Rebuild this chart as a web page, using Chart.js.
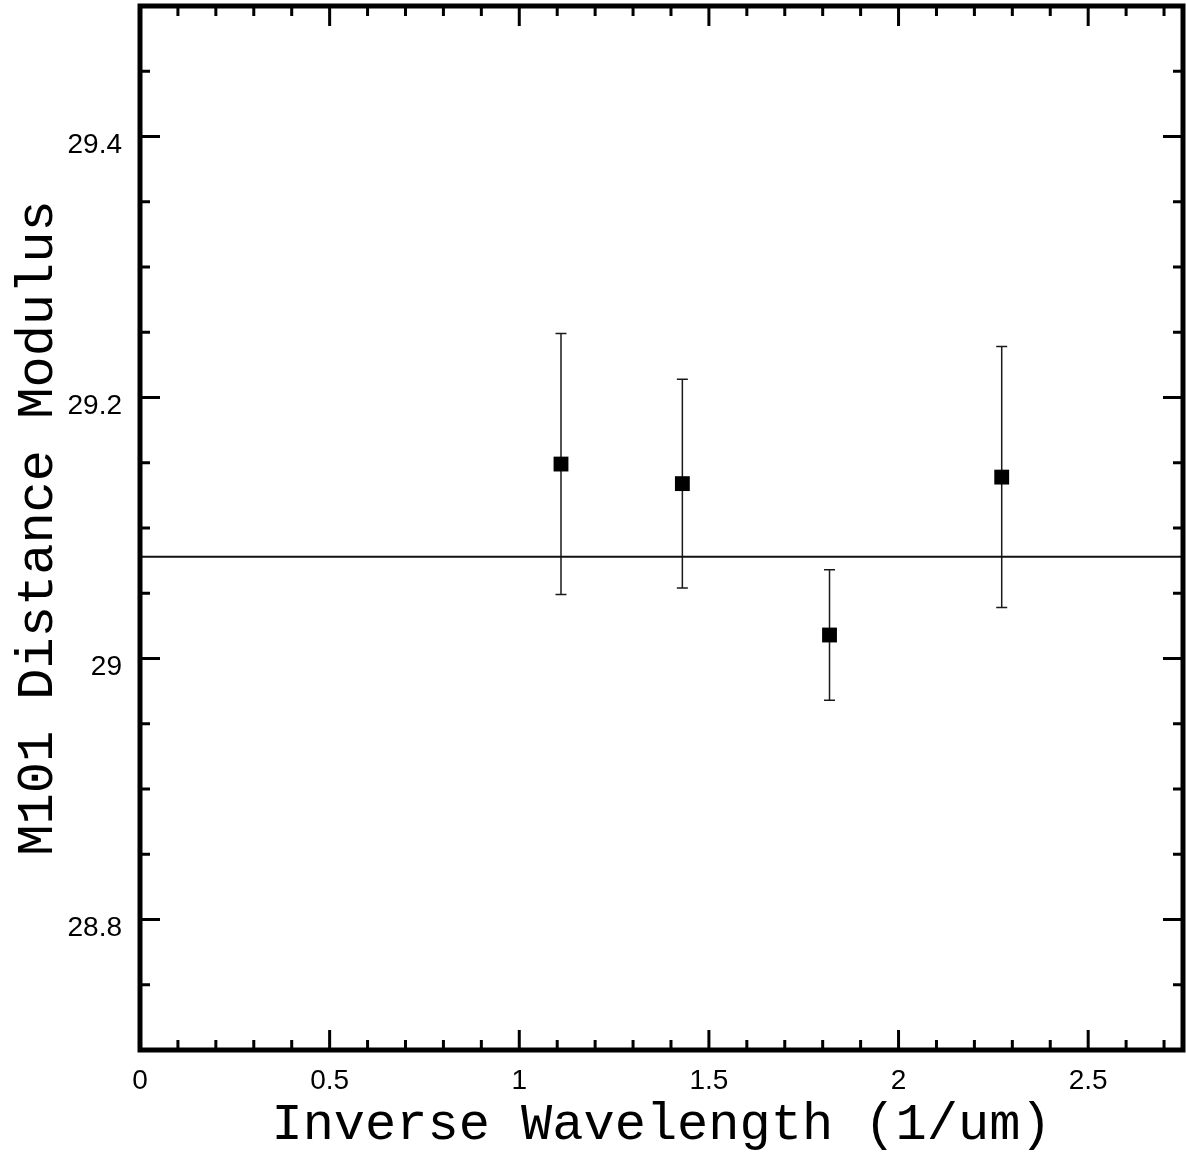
<!DOCTYPE html>
<html>
<head>
<meta charset="utf-8">
<title>M101 Distance Modulus</title>
<script src="https://cdn.jsdelivr.net/npm/chart.js@4.4.1/dist/chart.umd.min.js"></script>
<style>
  html, body { margin: 0; padding: 0; background: #fff; }
</style>
</head>
<body>
<canvas id="chart" width="1186" height="1160"></canvas>
<script>
// data
const invWavelength = [1.11, 1.43, 1.818, 2.272];
const distModulus = [29.149, 29.134, 29.018, 29.139];
const distError = [0.10, 0.08, 0.05, 0.10];
const meanModulus = 29.078;

const xRange = [0, 2.75];
const yRange = [28.7, 29.5];
const xTickValues = [0, 0.5, 1, 1.5, 2, 2.5];
const yTickValues = [28.8, 29, 29.2, 29.4];

const points = invWavelength.map((x, i) => ({ x: x, y: distModulus[i] }));

const tickFont = '28px "Liberation Sans", Arial, sans-serif';
const titleFont = { family: '"Liberation Mono", "Courier New", monospace', size: 52 };

// vertical error bars with small caps
const errorBars = {
  id: 'errorBars',
  beforeDatasetsDraw(chart) {
    const ctx = chart.ctx;
    const xs = chart.scales.x, ys = chart.scales.y;
    ctx.save();
    ctx.strokeStyle = '#1a1a1a';
    ctx.lineWidth = 1.5;
    points.forEach((p, i) => {
      const px = xs.getPixelForValue(p.x);
      const top = ys.getPixelForValue(p.y + distError[i]);
      const bot = ys.getPixelForValue(p.y - distError[i]);
      ctx.beginPath();
      ctx.moveTo(px, top); ctx.lineTo(px, bot);
      ctx.moveTo(px - 5.5, top); ctx.lineTo(px + 5.5, top);
      ctx.moveTo(px - 5.5, bot); ctx.lineTo(px + 5.5, bot);
      ctx.stroke();
    });
    ctx.restore();
  }
};

// heavy frame, inward ticks on all four sides, tick labels
const frame = {
  id: 'frame',
  afterDraw(chart) {
    const ctx = chart.ctx;
    const a = chart.chartArea;
    const xs = chart.scales.x, ys = chart.scales.y;
    ctx.save();
    ctx.strokeStyle = '#000';
    ctx.lineCap = 'butt';
    ctx.lineWidth = 3;
    ctx.beginPath();
    for (let i = 1; i < 28; i++) {
      const px = xs.getPixelForValue(i / 10);
      const len = i % 5 === 0 ? 20 : 10;
      ctx.moveTo(px, a.bottom); ctx.lineTo(px, a.bottom - len);
      ctx.moveTo(px, a.top); ctx.lineTo(px, a.top + len);
    }
    for (let j = 1; j < 16; j++) {
      const py = ys.getPixelForValue(yRange[0] + j * 0.05);
      const len = j % 4 === 2 ? 20 : 10;
      ctx.moveTo(a.left, py); ctx.lineTo(a.left + len, py);
      ctx.moveTo(a.right, py); ctx.lineTo(a.right - len, py);
    }
    ctx.stroke();
    ctx.lineWidth = 5;
    ctx.strokeRect(a.left, a.top, a.right - a.left, a.bottom - a.top);

    ctx.fillStyle = '#000';
    ctx.font = tickFont;
    ctx.textBaseline = 'alphabetic';
    ctx.textAlign = 'center';
    xTickValues.forEach(v => {
      ctx.fillText(String(v), xs.getPixelForValue(v), a.bottom + 39);
    });
    ctx.textAlign = 'right';
    yTickValues.forEach(v => {
      ctx.fillText(String(v), a.left - 18, ys.getPixelForValue(v) + 16);
    });
    ctx.restore();
  }
};

new Chart(document.getElementById('chart'), {
  type: 'scatter',
  data: {
    datasets: [
      {
        data: points,
        pointStyle: 'rect',
        pointRadius: 10.5,
        pointBorderWidth: 0,
        backgroundColor: '#000',
        borderColor: '#000'
      },
      {
        data: [{ x: xRange[0], y: meanModulus }, { x: xRange[1], y: meanModulus }],
        showLine: true,
        pointRadius: 0,
        borderColor: '#111',
        borderWidth: 2
      }
    ]
  },
  options: {
    responsive: false,
    animation: false,
    devicePixelRatio: 1,
    layout: { autoPadding: false, padding: { top: 6, right: 3, left: 0, bottom: 0 } },
    plugins: { legend: { display: false }, tooltip: { enabled: false } },
    scales: {
      x: {
        type: 'linear',
        min: xRange[0],
        max: xRange[1],
        border: { display: false },
        grid: { display: false, drawTicks: false },
        ticks: { display: false },
        afterFit: s => { s.height = 110; },
        title: {
          display: true,
          text: 'Inverse Wavelength (1/um)',
          color: '#000',
          font: titleFont,
          padding: { top: 0, bottom: 4 }
        }
      },
      y: {
        type: 'linear',
        min: yRange[0],
        max: yRange[1],
        border: { display: false },
        grid: { display: false, drawTicks: false },
        ticks: { display: false },
        afterFit: s => { s.width = 140; },
        title: {
          display: true,
          text: 'M101 Distance Modulus',
          color: '#000',
          font: titleFont,
          padding: { top: 7, bottom: 0 }
        }
      }
    }
  },
  plugins: [errorBars, frame]
});
</script>
</body>
</html>
